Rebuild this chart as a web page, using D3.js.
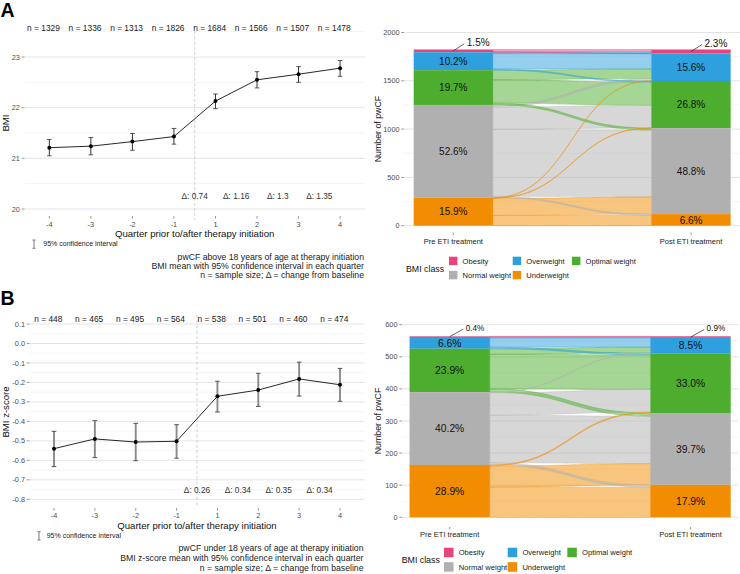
<!DOCTYPE html>
<html><head><meta charset="utf-8">
<script src="https://cdn.jsdelivr.net/npm/d3@7"></script>
<style>body{margin:0;background:#fff} svg{font-family:"Liberation Sans",Arial,Helvetica,sans-serif}</style>
</head><body><svg id="c" width="740" height="574"></svg>
<script>
// ---------------- DATA ----------------
const quarters = ["-4","-3","-2","-1","1","2","3","4"];
const bmiMean = [21.21,21.24,21.33,21.43,22.13,22.55,22.66,22.78];
const bmiLow  = [21.05,21.07,21.16,21.28,21.98,22.39,22.50,22.62];
const bmiHigh = [21.37,21.41,21.49,21.59,22.27,22.71,22.81,22.93];
const bmiN = [1329,1336,1313,1826,1684,1566,1507,1478];
const bmiDelta = ["0.74","1.16","1.3","1.35"];
const bmiTicks = [20,21,22,23];
const bmiMinor = [20.5,21.5,22.5,23.5];

const zMean = [-0.540,-0.490,-0.506,-0.502,-0.271,-0.239,-0.182,-0.212];
const zLow  = [-0.632,-0.586,-0.602,-0.589,-0.352,-0.323,-0.270,-0.297];
const zHigh = [-0.451,-0.396,-0.410,-0.417,-0.194,-0.153,-0.096,-0.128];
const zN = [448,465,495,564,538,501,460,474];
const zDelta = ["0.26","0.34","0.35","0.34"];
const zTicks = [0.1,0.0,-0.1,-0.2,-0.3,-0.4,-0.5,-0.6,-0.7,-0.8];
const zMinor = [0.05,-0.05,-0.15,-0.25,-0.35,-0.45,-0.55,-0.65,-0.75];

const bmiClasses = ["Obesity","Overweight","Optimal weight","Normal weight","Underweight"];
const classColors = ["#E8437B","#2EA0DD","#4DAD2E","#B0B0B0","#F28C00"];
const timepoints = ["Pre ETI treatment","Post ETI treatment"];
// transitions: rows = pre class, columns = post class (order of bmiClasses)
const flowsA = [
  [27,  1,   0,   0,   0],
  [15, 159, 12,   0,   0],
  [ 0,  99, 241, 20,   0],
  [ 0,  22, 231, 693, 14],
  [ 0,   3,   4, 177, 106]];
const flowsB = [
  [2,  0,   0,   0,  0],
  [3, 29,   5,   0,  0],
  [0, 17, 108,  10,  0],
  [0,  2,  70, 148,  7],
  [0,  0,   3,  66, 94]];
const countTicksA = [0,500,1000,1500,2000];
const countMinorA = [250,750,1250,1750];
const countTicksB = [0,100,200,300,400,500,600];
const countMinorB = [50,150,250,350,450,550];

const captionA = ["pwCF above 18 years of age at therapy initiation",
  "BMI mean with 95% confidence interval in each quarter",
  "n = sample size; \u0394 = change from baseline"];
const captionB = ["pwCF under 18 years of age at therapy initiation",
  "BMI z-score mean with 95% confidence interval in each quarter",
  "n = sample size; \u0394 = change from baseline"];

// ---------------- DRAW ----------------
const svg = d3.select("#c");
const TXT = "#4d4d4d";

function linePanel(o){
  const g = svg.append("g");
  const x = d3.scaleLinear().domain([-0.6,7.6]).range(o.xRange);
  const y = d3.scaleLinear().domain(o.yDomain).range(o.yRange);
  const [L,R] = o.xRange;
  const idx = d3.range(quarters.length);
  g.selectAll(null).data(o.minor).join("line")
    .attr("x1",L).attr("x2",R).attr("y1",d=>y(d)).attr("y2",d=>y(d))
    .attr("stroke","#f1f1f1").attr("stroke-width",0.7);
  g.selectAll(null).data(o.ticks).join("line")
    .attr("x1",L).attr("x2",R).attr("y1",d=>y(d)).attr("y2",d=>y(d))
    .attr("stroke","#e4e4e4").attr("stroke-width",1);
  // y ticks
  g.selectAll(null).data(o.ticks).join("line")
    .attr("x1",L-2.7).attr("x2",L).attr("y1",d=>y(d)).attr("y2",d=>y(d))
    .attr("stroke","#555").attr("stroke-width",0.6);
  g.selectAll(null).data(o.ticks).join("text")
    .attr("x",L-4.5).attr("y",d=>y(d)).attr("dy","0.35em").attr("text-anchor","end")
    .attr("font-size",7.3).attr("fill",TXT).text(o.fmt);
  // x ticks
  g.selectAll(null).data(idx).join("line")
    .attr("x1",d=>x(d)).attr("x2",d=>x(d)).attr("y1",o.bottom).attr("y2",o.bottom+2.7)
    .attr("stroke","#555").attr("stroke-width",0.6);
  g.selectAll(null).data(idx).join("text")
    .attr("x",d=>x(d)).attr("y",o.xLabY).attr("dy","0.35em").attr("text-anchor","middle")
    .attr("font-size",7.3).attr("fill",TXT).text(d=>quarters[d]);
  // dashed baseline separator
  g.append("line").attr("x1",x(3.5)).attr("x2",x(3.5)).attr("y1",o.dashTop).attr("y2",o.dashBot)
    .attr("stroke","#c4c4c4").attr("stroke-width",0.8).attr("stroke-dasharray","3,2.2");
  // error bars
  const cw = 2.3;
  g.selectAll(null).data(idx).join("line")
    .attr("x1",d=>x(d)).attr("x2",d=>x(d)).attr("y1",d=>y(o.low[d])).attr("y2",d=>y(o.high[d]))
    .attr("stroke",o.barColor).attr("stroke-width",o.barWidth);
  ["low","high"].forEach(k=>{
    g.selectAll(null).data(idx).join("line")
      .attr("x1",d=>x(d)-cw).attr("x2",d=>x(d)+cw).attr("y1",d=>y(o[k][d])).attr("y2",d=>y(o[k][d]))
      .attr("stroke","#444").attr("stroke-width",0.9);
  });
  // line + points
  g.append("path").datum(idx)
    .attr("d",d3.line().x(d=>x(d)).y(d=>y(o.mean[d])))
    .attr("fill","none").attr("stroke","#111").attr("stroke-width",0.9);
  g.selectAll(null).data(idx).join("circle")
    .attr("cx",d=>x(d)).attr("cy",d=>y(o.mean[d])).attr("r",2).attr("fill","#000");
  // n labels
  g.selectAll(null).data(idx).join("text")
    .attr("x",d=>x(d-0.14)).attr("y",y(o.nY)).attr("dy","0.35em").attr("text-anchor","middle")
    .attr("font-size",8.4).attr("fill","#1a1a1a").text(d=>"n = "+o.n[d]);
  // delta labels
  g.selectAll(null).data(o.delta).join("text")
    .attr("x",(d,i)=>x(3.5+i)).attr("y",y(o.deltaY)).attr("dy","0.35em").attr("text-anchor","middle")
    .attr("font-size",8.3).attr("fill","#333").text(d=>"\u0394: "+d);
  // titles
  g.append("text").attr("x",(L+R)/2).attr("y",o.xTitleY).attr("dy","0.35em").attr("text-anchor","middle")
    .attr("font-size",9.6).attr("fill","#111").text("Quarter prior to/after therapy initiation");
  g.append("text").attr("transform",`translate(${o.yTitleX},${o.yTitleY}) rotate(-90)`)
    .attr("dy","0.35em").attr("text-anchor","middle").attr("font-size",9.6).attr("fill","#111").text(o.yTitle);
  // CI legend
  const [cx,cy0,cy1] = o.ciGlyph;
  g.append("line").attr("x1",cx).attr("x2",cx).attr("y1",cy0).attr("y2",cy1).attr("stroke","#666").attr("stroke-width",0.9);
  [cy0,cy1].forEach(v=>g.append("line").attr("x1",cx-1.6).attr("x2",cx+1.6).attr("y1",v).attr("y2",v).attr("stroke","#666").attr("stroke-width",0.8));
  g.append("text").attr("x",o.ciText[0]).attr("y",o.ciText[1]).attr("dy","0.35em")
    .attr("font-size",7).attr("fill","#222").text("95% confidence interval");
  // caption
  g.selectAll(null).data(o.caption).join("text")
    .attr("x",o.capX).attr("y",(d,i)=>o.capY[i]).attr("dy","0.35em").attr("text-anchor","end")
    .attr("font-size",8.7).attr("fill","#222").text(d=>d);
  // panel letter
  svg.append("text").attr("x",0.5).attr("y",o.letterY).attr("font-size",19.5).attr("font-weight","bold")
    .attr("fill","#000").text(o.letter);
}

function alluvialPanel(o){
  const g = svg.append("g");
  const M = o.flows, K = bmiClasses.length;
  const preTot = M.map(r=>d3.sum(r));
  const postTot = bmiClasses.map((c,q)=>d3.sum(M,r=>r[q]));
  const totals = [preTot, postTot];
  const N = d3.sum(preTot);
  const x = d3.scaleLinear().domain(o.xDomain).range(o.xRange);
  const y = d3.scaleLinear().domain(o.yDomain).range(o.yRange);
  const [L,R] = o.xRange;
  const bw = x(1+1/6)-x(1-1/6);
  const stackHi = tot=>{ let acc=d3.sum(tot); return tot.map(t=>{const h=acc; acc-=t; return h;}); };
  const his = [stackHi(preTot), stackHi(postTot)];
  // grid
  g.selectAll(null).data(o.minor).join("line")
    .attr("x1",L).attr("x2",R).attr("y1",d=>y(d)).attr("y2",d=>y(d))
    .attr("stroke","#f1f1f1").attr("stroke-width",0.7);
  g.selectAll(null).data(o.ticks).join("line")
    .attr("x1",L).attr("x2",R).attr("y1",d=>y(d)).attr("y2",d=>y(d))
    .attr("stroke","#e4e4e4").attr("stroke-width",1);
  g.selectAll(null).data(o.ticks).join("line")
    .attr("x1",L-2.7).attr("x2",L).attr("y1",d=>y(d)).attr("y2",d=>y(d))
    .attr("stroke","#555").attr("stroke-width",0.6);
  g.selectAll(null).data(o.ticks).join("text")
    .attr("x",L-4.5).attr("y",d=>y(d)).attr("dy","0.35em").attr("text-anchor","end")
    .attr("font-size",7.3).attr("fill",TXT).text(d=>d);
  // x ticks
  g.selectAll(null).data([1,2]).join("line")
    .attr("x1",d=>x(d)).attr("x2",d=>x(d)).attr("y1",o.xTickY).attr("y2",o.xTickY+2.7)
    .attr("stroke","#555").attr("stroke-width",0.6);
  g.selectAll(null).data([1,2]).join("text")
    .attr("x",d=>x(d)).attr("y",o.xLabY).attr("dy","0.35em").attr("text-anchor","middle")
    .attr("font-size",7.5).attr("fill","#222").text(d=>timepoints[d-1]);
  g.append("text").attr("transform",`translate(${o.yTitleX},${(o.yRange[0]+o.yRange[1])/2}) rotate(-90)`)
    .attr("dy","0.35em").attr("text-anchor","middle").attr("font-size",8.8).attr("fill","#111").text("Number of pwCF");
  // flows
  const flows = [];
  for(let p=0;p<K;p++){ let top=his[0][p]; for(let q=0;q<K;q++){ flows.push({p,q,v:M[p][q],a0:top,a1:top-M[p][q]}); top-=M[p][q]; } }
  for(let q=0;q<K;q++){ let top=his[1][q]; for(let p=0;p<K;p++){ const f=flows[p*K+q]; f.b0=top; f.b1=top-M[p][q]; top-=M[p][q]; } }
  const x0 = x(1)+bw/2, x1 = x(2)-bw/2, xm=(x0+x1)/2;
  const fpath = f=>`M${x0},${y(f.a0)}C${xm},${y(f.a0)} ${xm},${y(f.b0)} ${x1},${y(f.b0)}L${x1},${y(f.b1)}C${xm},${y(f.b1)} ${xm},${y(f.a1)} ${x0},${y(f.a1)}Z`;
  g.selectAll(null).data(flows.filter(f=>f.v>0).sort((a,b)=>b.v-a.v)).join("path")
    .attr("d",fpath).attr("fill",f=>classColors[f.p]).attr("fill-opacity",0.5)
    .attr("stroke",f=>classColors[f.p]).attr("stroke-opacity",0.45).attr("stroke-width",0.8);
  // strata
  [0,1].forEach(t=>{
    g.selectAll(null).data(d3.range(K)).join("rect")
      .attr("x",x(t+1)-bw/2).attr("width",bw)
      .attr("y",k=>y(his[t][k])).attr("height",k=>y(his[t][k]-totals[t][k])-y(his[t][k]))
      .attr("fill",k=>classColors[k]);
    g.selectAll(null).data(d3.range(1,K)).join("text")
      .attr("x",x(t+1)).attr("y",k=>y(his[t][k]-totals[t][k]/2)).attr("dy","0.36em")
      .attr("text-anchor","middle").attr("font-size",o.pctSize).attr("fill","#111")
      .text(k=>(totals[t][k]/N*100).toFixed(1)+"%");
    // obesity label with leader
    const cx = x(t+1), cy = y(his[t][0]-totals[t][0]/2);
    g.append("line").attr("x1",cx).attr("y1",cy).attr("x2",cx+o.lead[0]).attr("y2",cy+o.lead[1])
      .attr("stroke","#222").attr("stroke-width",0.7);
    g.append("text").attr("x",cx+o.lead[0]+2.5).attr("y",cy+o.lead[1]-1.5).attr("dy","0.35em")
      .attr("font-size",o.obSize).attr("fill","#111").text((totals[t][0]/N*100).toFixed(1)+"%");
  });
  // legend
  const lg = svg.append("g");
  lg.append("text").attr("x",o.leg.titleX).attr("y",o.leg.titleY).attr("dy","0.35em")
    .attr("font-size",8.8).attr("fill","#111").text("BMI class");
  bmiClasses.forEach((c,k)=>{
    const col=k%3,row=Math.floor(k/3);
    const kx=o.leg.cols[col], ky=o.leg.rows[row];
    lg.append("rect").attr("x",kx).attr("y",ky).attr("width",o.leg.key).attr("height",o.leg.key).attr("fill",classColors[k]);
    lg.append("text").attr("x",kx+o.leg.key+5.2).attr("y",ky+o.leg.key/2).attr("dy","0.35em")
      .attr("font-size",7.6).attr("fill","#222").text(c);
  });
}

linePanel({letter:"A",letterY:17,xRange:[24.4,365],yDomain:[20,23],yRange:[209,57],
  ticks:bmiTicks,minor:bmiMinor,fmt:d=>String(d),bottom:216,xLabY:224,dashTop:26,dashBot:220,
  mean:bmiMean,low:bmiLow,high:bmiHigh,n:bmiN,delta:bmiDelta,nY:23.57,deltaY:20.26,
  barColor:"#333",barWidth:1,xTitleY:233.3,yTitle:"BMI",yTitleX:6,yTitleY:123,
  ciGlyph:[34,240,248.3],ciText:[43.3,244],caption:captionA,capX:364,capY:[257.3,266.1,275]});
linePanel({letter:"B",letterY:305,xRange:[29.5,364.5],yDomain:[-0.8,0.1],yRange:[499.3,324],
  ticks:zTicks,minor:zMinor,fmt:d=>d.toFixed(1),bottom:508,xLabY:515.7,dashTop:315,dashBot:506,
  mean:zMean,low:zLow,high:zHigh,n:zN,delta:zDelta,nY:0.124,deltaY:-0.751,
  barColor:"#8a8a8a",barWidth:1.9,xTitleY:525.7,yTitle:"BMI z-score",yTitleX:6,yTitleY:412,
  ciGlyph:[39,531.7,540],ciText:[46.7,535.7],caption:captionB,capX:363.5,capY:[548.3,557.9,567.6]});

alluvialPanel({flows:flowsA,xDomain:[0.7926,2.206],xRange:[404,740],yDomain:[0,2000],yRange:[225.7,32.5],
  ticks:countTicksA,minor:countMinorA,xTickY:232.5,xLabY:241.7,yTitleX:378,pctSize:10,obSize:10,lead:[11,-7],
  leg:{titleX:406,titleY:269,cols:[449,512.7,572],rows:[256.7,270.9],key:8.4}});
alluvialPanel({flows:flowsB,xDomain:[0.802,2.199],xRange:[402,738.5],yDomain:[0,600],yRange:[517.3,324.7],
  ticks:countTicksB,minor:countMinorB,xTickY:527,xLabY:534,yTitleX:378,pctSize:10.3,obSize:8.2,lead:[13.5,-7.4],
  leg:{titleX:401.7,titleY:560,cols:[444,507.7,567.3],rows:[547.7,562.2],key:9.5}});
</script>
</body></html>
